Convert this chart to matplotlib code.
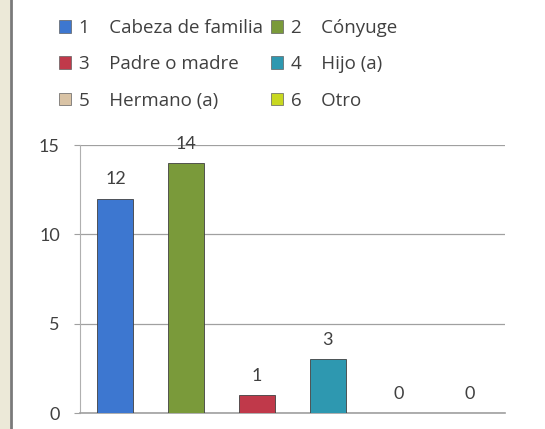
import matplotlib
matplotlib.use('Agg')
import matplotlib.pyplot as plt
from matplotlib.patches import Rectangle, Patch
from matplotlib.lines import Line2D

# Datos del gráfico
categorias = ['1', '2', '3', '4', '5', '6']
nombres = ['Cabeza de familia', 'Cónyuge', 'Padre o madre', 'Hijo (a)', 'Hermano (a)', 'Otro']
valores = [12, 14, 1, 3, 0, 0]
colores = ['#3d77d0', '#7a9a3a', '#c0394a', '#2e98b0', '#d9c3a5', '#c8d820']
yticks = [0, 5, 10, 15]

plt.rcParams['font.family'] = ['Lato', 'DejaVu Sans']

W, H = 545, 429
fig = plt.figure(figsize=(W / 100, H / 100), dpi=100)
fig.patch.set_facecolor('white')

# franja gris a la izquierda
fig.add_artist(Rectangle((0, 0), 10 / W, 1, transform=fig.transFigure,
                         facecolor='#ece9d8', edgecolor='none'))
fig.add_artist(Line2D([11 / W, 11 / W], [0, 1], transform=fig.transFigure,
                      color='#7a7a7a', lw=2))

# ejes: x 80..505 px, y=15 en 145 px, y=0 en 413 px
ax = fig.add_axes([80 / W, 1 - 413 / H, 425 / W, (413 - 145) / H])
x = list(range(len(valores)))
ax.bar(x, valores, width=0.51, color=colores, edgecolor='#404040', linewidth=0.6, zorder=3)

for xi, v in zip(x, valores):
    ax.annotate(str(v), (xi, v), xytext=(0, 8), textcoords='offset points',
                ha='center', va='bottom', fontsize=13, color='#404040')

ax.set_xlim(-0.5, len(valores) - 0.5)
ax.set_ylim(0, 15)
ax.set_yticks(yticks)
ax.set_yticklabels([str(t) for t in yticks], fontsize=13, color='#404040')
ax.set_xticks([])
ax.tick_params(axis='y', length=4.5, color='#a0a0a0', pad=10)
ax.grid(axis='y', color='#a0a0a0', lw=0.9, zorder=0)
for s in ['top', 'right']:
    ax.spines[s].set_visible(False)
ax.spines['left'].set_color('#b0b0b0')
ax.spines['bottom'].set_color('#a0a0a0')
ax.spines['bottom'].set_linewidth(1.2)

# leyenda (orden por filas)
handles = [Patch(facecolor=c, edgecolor='#606060', lw=0.5) for c in colores]
labels = [f'{c}    {n}' for c, n in zip(categorias, nombres)]
orden = [0, 2, 4, 1, 3, 5]
leg = fig.legend([handles[i] for i in orden], [labels[i] for i in orden],
                 ncol=2, loc='upper left', bbox_to_anchor=(42 / W, 1 - 2 / H),
                 frameon=False, prop={'family': ['Open Sans', 'DejaVu Sans'], 'size': 13.5},
                 handlelength=0.65, handleheight=0.65,
                 handletextpad=0.4, columnspacing=0.45, labelspacing=0.98,
                 labelcolor='#404040')

plt.savefig('out.png', dpi=100, facecolor='white')
